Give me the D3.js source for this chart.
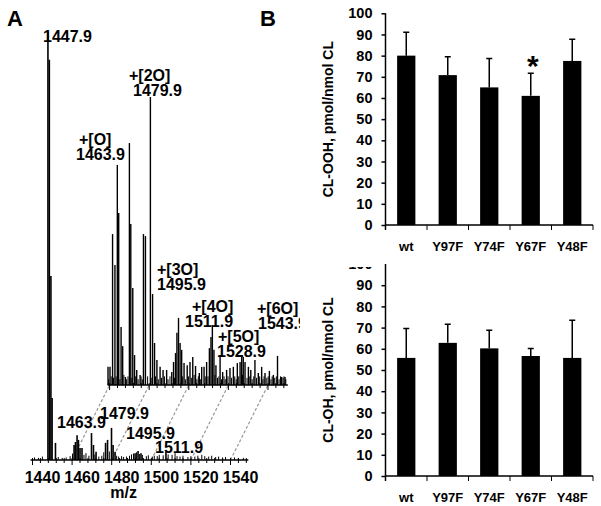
<!DOCTYPE html>
<html>
<head>
<meta charset="utf-8">
<script src="https://cdn.jsdelivr.net/npm/d3@7"></script>
<style>
  body { margin: 0; background: #fff; }
  text { font-family: "Liberation Sans", Arial, sans-serif; font-weight: bold; fill: #000; }
  .axis line, .axis path { stroke: #000; stroke-width: 1.5px; }
</style>
</head>
<body>
<svg width="601" height="506"></svg>
<script>
// ---------- panel A data ----------
var mzTicks = [1440, 1460, 1480, 1500, 1520, 1540];
var zoomMarks = [1460, 1480, 1500, 1520, 1540];

// full spectrum, [m/z, relative intensity]
var fullPeaks = [
  [1447.8, 100], [1448.5, 93.5], [1449.3, 43], [1449.9, 14.5], [1451.6, 4],
  [1461.0, 3.5], [1461.7, 4.2], [1462.5, 5.8], [1463.2, 4.7], [1464.0, 2.8], [1465.0, 2.8],
  [1469.8, 6.3], [1470.8, 3.5], [1472.1, 1.9],
  [1476.9, 4.0], [1477.9, 4.7], [1479.9, 7.5], [1480.7, 3.5], [1481.7, 1.9],
  [1491.8, 1.6], [1493.3, 2.1], [1494.8, 1.6], [1507.4, 1.9]
];
var fullNoise = [
  [1441, 0.6], [1443, 0.5], [1445, 0.8], [1453, 0.7], [1455, 0.5], [1457, 0.6], [1459, 0.9],
  [1460.2, 1.5], [1466, 1.2], [1467, 1.6], [1468.5, 1.0], [1471.5, 1.3], [1473.5, 0.8],
  [1475, 1.0], [1476, 1.8], [1478.8, 2.0], [1482.5, 1.0], [1483.5, 0.8], [1485, 0.9],
  [1486, 0.7], [1487.5, 0.8], [1489, 1.0], [1490, 1.3], [1491, 1.5], [1492.5, 1.8],
  [1494, 1.4], [1495.5, 1.2], [1497.5, 0.9], [1498.5, 1.1], [1500.5, 0.8], [1501.5, 1.0],
  [1503, 0.9], [1504, 1.2], [1506, 1.1], [1508.5, 1.3], [1510.5, 1.2], [1512, 1.6],
  [1513, 0.9], [1514.5, 0.8], [1516, 1.0], [1518.5, 0.7], [1520, 0.9], [1522, 0.8],
  [1523.5, 1.0], [1525.5, 1.2], [1527, 0.9], [1529, 0.8], [1530.5, 1.0], [1532.5, 0.7],
  [1534, 0.8], [1536, 0.6], [1537.5, 0.7], [1540, 0.5], [1542, 0.6], [1544, 0.5], [1546.5, 0.5]
];

// zoomed inset, [m/z, relative intensity]
var insetPeaks = [
  [1459.2, 6.3], [1460.2, 6.3], [1461.5, 52.4], [1462.7, 41.7], [1463.9, 76.4], [1464.6, 59.7],
  [1465.8, 20.1], [1466.6, 13.5], [1468.0, 2.8], [1470.0, 84.0], [1470.7, 55.9], [1471.7, 33.7],
  [1472.6, 10.4], [1473.7, 5.2], [1475.4, 3.5], [1477.1, 52.4], [1478.1, 51.7], [1480.6, 100],
  [1481.7, 31.6], [1482.7, 14.6], [1483.9, 8.7], [1485.5, 6.3], [1487.0, 5.2], [1488.8, 5.2],
  [1491.4, 4.5], [1492.3, 8.0], [1493.3, 11.1], [1494.0, 18.1], [1494.8, 23.3], [1495.6, 14.6],
  [1496.4, 12.2], [1497.6, 7.6], [1499.2, 6.9], [1500.6, 8.0], [1502.0, 9.7], [1503.4, 6.6],
  [1505.3, 4.2], [1506.5, 6.3], [1507.7, 6.3], [1509.0, 8.0], [1510.4, 12.8], [1511.2, 16.7],
  [1511.9, 20.8], [1512.7, 12.2], [1513.7, 6.9], [1515.8, 10.4], [1517.1, 4.5], [1519.1, 5.2],
  [1520.8, 5.9], [1522.5, 6.3], [1524.5, 7.6], [1525.9, 8.0], [1526.7, 10.4], [1527.5, 9.7],
  [1528.4, 8.0], [1530.1, 6.3], [1531.3, 5.2], [1533.4, 8.7], [1535.1, 4.2], [1536.8, 6.3],
  [1538.5, 4.2], [1540.7, 4.9], [1542.7, 3.5], [1544.8, 10.1], [1546.9, 2.8], [1548.6, 2.8]
];
var insetNoise = [
  [1459.5, 2], [1460.8, 3], [1462, 2.5], [1463.3, 3], [1465.2, 2], [1467.2, 3.5], [1468.6, 2],
  [1469.3, 3], [1471.2, 2.5], [1473, 3], [1474.4, 2], [1475.9, 3], [1476.5, 2], [1479.2, 3],
  [1481, 2.5], [1483.2, 3], [1484.6, 2], [1486.2, 2.5], [1487.7, 3], [1489.5, 2], [1490.5, 3],
  [1492.8, 2.5], [1496.9, 3], [1498.4, 2], [1499.9, 3], [1501.3, 2.5], [1502.7, 3.5], [1504.1, 2],
  [1504.8, 3], [1506, 2], [1508.3, 3], [1509.7, 3], [1513.2, 3.5], [1514.5, 2.5], [1515.2, 3],
  [1516.5, 2], [1517.8, 3], [1518.4, 2], [1519.8, 3], [1521.6, 2.5], [1523.2, 3], [1523.9, 2],
  [1525.2, 3], [1527.1, 3.5], [1529.4, 2.5], [1530.8, 3], [1532, 2], [1532.8, 3], [1534.2, 2.5],
  [1535.8, 3], [1537.4, 2], [1538, 3], [1539.4, 2.5], [1540.1, 3], [1541.5, 2], [1542.1, 3],
  [1543.4, 2.5], [1544.2, 3], [1545.6, 2], [1546.3, 3], [1547.6, 2.5], [1548.1, 3], [1549, 2]
];

var insetTags = ["+[O]", "+[2O]", "+[3O]", "+[4O]", "+[5O]", "+[6O]"];
var insetMz = ["1463.9", "1479.9", "1495.9", "1511.9", "1528.9", "1543.9"];
var fullMz = ["1447.9", "1463.9", "1479.9", "1495.9", "1511.9"];

// ---------- panel B data ----------
var mutants = ["wt", "Y97F", "Y74F", "Y67F", "Y48F"];
var oohMean = [80, 70.8, 65, 61, 77.5];
var oohSD = [11, 8.7, 13.7, 10.7, 10.2];
var ohMean = [55.7, 62.8, 60.2, 56.6, 55.7];
var ohSD = [13.9, 8.8, 8.6, 3.6, 17.8];
var yTicks = d3.range(0, 101, 10);

var svg = d3.select("svg");
var defs = svg.append("defs");

// ================= panel A =================
defs.append("clipPath").attr("id", "clipA")
  .append("rect").attr("x", 0).attr("y", 0).attr("width", 300).attr("height", 506);

var A = svg.append("g").attr("clip-path", "url(#clipA)");

var x = d3.scaleLinear().domain([1440, 1540]).range([32.5, 230.5]);
var xi = d3.scaleLinear().domain([1440, 1540]).range([70, 268]);   // inset, shifted
var y = d3.scaleLinear().domain([0, 100]).range([460, 32]);
var yi = d3.scaleLinear().domain([0, 100]).range([385, 97]);

// dashed connectors between the two axes
A.selectAll(".conn").data(zoomMarks).enter().append("line")
  .attr("x1", function(d) { return x(d); }).attr("y1", y(0))
  .attr("x2", function(d) { return xi(d); }).attr("y2", yi(0))
  .attr("stroke", "#999").attr("stroke-width", 1.2).attr("stroke-dasharray", "3,2");

function sticks(g, data, sx, sy, w) {
  g.selectAll(null).data(data).enter().append("line")
    .attr("x1", function(d) { return sx(d[0]); }).attr("x2", function(d) { return sx(d[0]); })
    .attr("y1", sy(0)).attr("y2", function(d) { return sy(d[1]); })
    .attr("stroke", "#000").attr("stroke-width", w);
}

function mzAxis(g, sx, sy, lo, hi) {
  g.append("line").attr("x1", sx(lo)).attr("x2", sx(hi))
    .attr("y1", sy(0)).attr("y2", sy(0)).attr("stroke", "#000").attr("stroke-width", 1.5);
  g.selectAll(null).data(d3.range(1440, hi, 4).filter(function(d) { return d >= lo; }))
    .enter().append("line")
    .attr("x1", function(d) { return sx(d); }).attr("x2", function(d) { return sx(d); })
    .attr("y1", sy(0) - 2).attr("y2", function(d) { return sy(0) + (d % 20 === 0 ? 5 : 3); })
    .attr("stroke", "#000").attr("stroke-width", 1);
}

sticks(A, fullNoise, x, y, 1);
sticks(A, fullPeaks, x, y, 1.6);
mzAxis(A, x, y, 1439, 1549);

sticks(A, insetNoise, xi, yi, 1);
sticks(A, insetPeaks, xi, yi, 1.4);
mzAxis(A, xi, yi, 1459, 1550);

// tick labels (printed slightly right of the ticks in the original)
A.selectAll(".mzlab").data(mzTicks).enter().append("text")
  .attr("x", function(d) { return x(d) + 10; }).attr("y", 483)
  .attr("text-anchor", "middle").style("font-size", "16px").text(function(d) { return d; });
A.append("text").attr("x", x(1486)).attr("y", 498).attr("text-anchor", "middle")
  .style("font-size", "16px").text("m/z");

// peak labels
var fullLabPos = [[43, 42], [57, 428], [100, 419], [126, 439], [155, 453]];
A.selectAll(".flab").data(fullMz).enter().append("text")
  .attr("x", function(d, i) { return fullLabPos[i][0]; })
  .attr("y", function(d, i) { return fullLabPos[i][1]; })
  .style("font-size", "16px").text(function(d) { return d; });

var insetLabPos = [[76, 160, 79], [133, 96, 129], [157, 290, 157], [185, 327, 192], [217, 357, 218], [258, 329, 257]];
insetMz.forEach(function(m, i) {
  var p = insetLabPos[i];
  A.append("text").attr("x", p[0]).attr("y", p[1]).style("font-size", "16px").text(m);
  A.append("text").attr("x", p[2]).attr("y", p[1] - 15).style("font-size", "16px").text(insetTags[i]);
});

svg.append("text").attr("x", 7).attr("y", 26).style("font-size", "22px").text("A");
svg.append("text").attr("x", 260).attr("y", 26).style("font-size", "22px").text("B");

// ================= panel B =================
var xb = d3.scaleBand().domain(mutants).range([385.5, 593]).paddingInner(0.56).paddingOuter(0.28);

function barChart(top, bottom, means, sds, label, starIdx, clipId) {
  var yb = d3.scaleLinear().domain([0, 100]).range([bottom, top]);
  var g = svg.append("g");
  var step = xb.step();
  var x0 = xb.range()[0];

  g.selectAll(".bar").data(mutants).enter().append("rect")
    .attr("x", function(d) { return xb(d); }).attr("width", xb.bandwidth())
    .attr("y", function(d, i) { return yb(means[i]); })
    .attr("height", function(d, i) { return yb(0) - yb(means[i]); })
    .attr("fill", "#000");

  // error bars (upper only)
  g.selectAll(".err").data(mutants).enter().append("path")
    .attr("d", function(d, i) {
      var cx = xb(d) + xb.bandwidth() / 2, t = yb(means[i] + sds[i]);
      return "M" + cx + "," + yb(means[i]) + "V" + t + "M" + (cx - 3) + "," + t + "H" + (cx + 3);
    })
    .attr("stroke", "#000").attr("stroke-width", 1.5).attr("fill", "none");

  // y axis; the lower panel is cut off just above its top label
  var holder = g.append("g");
  if (clipId) {
    defs.append("clipPath").attr("id", clipId)
      .append("rect").attr("x", 300).attr("y", top + 3).attr("width", 100).attr("height", 300);
    holder.attr("clip-path", "url(#" + clipId + ")");
  }
  var ax = holder.append("g").attr("class", "axis")
    .attr("transform", "translate(" + x0 + ",0)")
    .call(d3.axisLeft(yb).tickValues(yTicks).tickSize(4).tickSizeOuter(0).tickPadding(9));
  ax.select(".domain").remove();
  ax.selectAll("text").style("font-size", "14.5px").style("font-family", "Liberation Sans, Arial, sans-serif")
    .style("font-weight", "bold");
  g.append("line").attr("x1", x0).attr("x2", x0).attr("y1", yb(100)).attr("y2", yb(0) + 5)
    .attr("stroke", "#000").attr("stroke-width", 1.5);

  g.append("line").attr("x1", x0).attr("x2", xb.range()[1])
    .attr("y1", yb(0)).attr("y2", yb(0)).attr("stroke", "#000").attr("stroke-width", 1.5);
  g.selectAll(".xt").data(d3.range(1, mutants.length + 1)).enter().append("line")
    .attr("x1", function(d) { return x0 + d * step; }).attr("x2", function(d) { return x0 + d * step; })
    .attr("y1", yb(0)).attr("y2", yb(0) + 5).attr("stroke", "#000").attr("stroke-width", 1);

  g.selectAll(".cat").data(mutants).enter().append("text")
    .attr("x", function(d) { return xb(d) + xb.bandwidth() / 2; })
    .attr("y", yb(0) + 26).attr("text-anchor", "middle").style("font-size", "13px")
    .text(function(d) { return d; });

  g.append("text").attr("transform", "translate(333," + (top + bottom) / 2 + ") rotate(-90)")
    .attr("text-anchor", "middle").style("font-size", "14px").text(label);

  if (starIdx != null) {
    g.append("text").attr("x", xb(mutants[starIdx]) + xb.bandwidth() / 2 + 2)
      .attr("y", yb(means[starIdx] + sds[starIdx]) + 3)
      .attr("text-anchor", "middle").style("font-size", "30px").text("*");
  }
}

barChart(13.3, 225, oohMean, oohSD, "CL-OOH, pmol/nmol CL", 3, null);
barChart(264, 476, ohMean, ohSD, "CL-OH, pmol/nmol CL", null, "clipB");
</script>
</body>
</html>
